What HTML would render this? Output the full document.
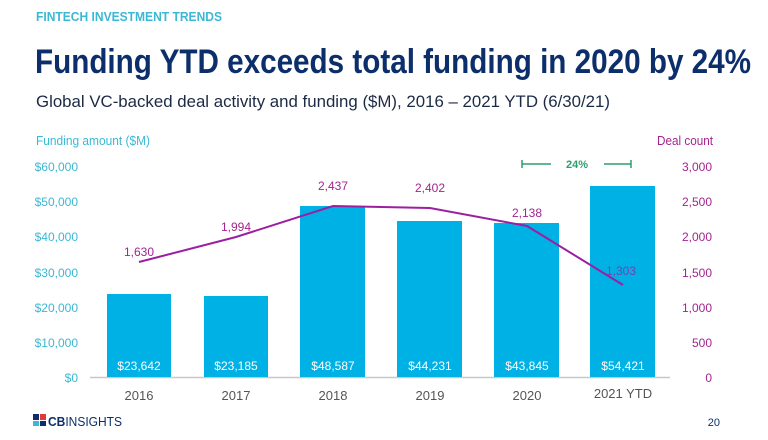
<!DOCTYPE html>
<html><head><meta charset="utf-8"><style>
body{margin:0;width:768px;height:440px;background:#fff;overflow:hidden}
svg{display:block}
text{font-family:"Liberation Sans Narrow","Liberation Sans",sans-serif}
</style></head><body>
<svg width="768" height="440" viewBox="0 0 768 440">
<text x="36" y="21" font-size="12.5" font-weight="bold" fill="#3bb8d4" textLength="186" lengthAdjust="spacingAndGlyphs">FINTECH INVESTMENT TRENDS</text>
<text x="35" y="73" font-size="34" font-weight="bold" fill="#0c2f6b" textLength="716" lengthAdjust="spacingAndGlyphs">Funding YTD exceeds total funding in 2020 by 24%</text>
<text x="36" y="107" font-size="17" fill="#1c2a44" textLength="574" lengthAdjust="spacingAndGlyphs">Global VC-backed deal activity and funding ($M), 2016 – 2021 YTD (6/30/21)</text>
<text x="36" y="145" font-size="13" fill="#3bb8d4" textLength="114" lengthAdjust="spacingAndGlyphs">Funding amount ($M)</text>
<text x="713" y="145" font-size="13" fill="#a3248f" text-anchor="end" textLength="56" lengthAdjust="spacingAndGlyphs">Deal count</text>
<g font-size="12" fill="#3bb8d4" text-anchor="end">
<text x="78" y="171">$60,000</text><text x="78" y="206">$50,000</text><text x="78" y="241">$40,000</text>
<text x="78" y="277">$30,000</text><text x="78" y="312">$20,000</text><text x="78" y="347">$10,000</text><text x="78" y="382">$0</text>
</g>
<g font-size="12" fill="#a3248f" text-anchor="end">
<text x="712" y="171">3,000</text><text x="712" y="206">2,500</text><text x="712" y="241">2,000</text>
<text x="712" y="277">1,500</text><text x="712" y="312">1,000</text><text x="712" y="347">500</text><text x="712" y="382">0</text>
</g>
<line x1="90" y1="377.5" x2="670" y2="377.5" stroke="#c8c8c8" stroke-width="1.5"/>
<g fill="#00b1e6">
<rect x="107" y="294" width="64" height="83"/>
<rect x="204" y="296" width="64" height="81"/>
<rect x="300" y="206" width="65" height="171"/>
<rect x="397" y="221" width="65" height="156"/>
<rect x="494" y="223" width="65" height="154"/>
<rect x="590" y="186" width="65" height="191"/>
</g>
<g font-size="12" fill="#fff" text-anchor="middle">
<text x="139" y="370">$23,642</text><text x="236" y="370">$23,185</text><text x="333" y="370">$48,587</text>
<text x="430" y="370">$44,231</text><text x="527" y="370">$43,845</text><text x="623" y="370">$54,421</text>
</g>
<polyline points="139,262 236,237 333,206 430,208 527,226 623,285" fill="none" stroke="#9b1fa0" stroke-width="2"/>
<g font-size="12" fill="#a3248f" text-anchor="middle">
<text x="139" y="256">1,630</text><text x="236" y="231">1,994</text><text x="333" y="190">2,437</text>
<text x="430" y="192">2,402</text><text x="527" y="217">2,138</text><text x="621" y="275" fill="#7a3fae">1,303</text>
</g>
<g font-size="13" fill="#555" text-anchor="middle">
<text x="139" y="400">2016</text><text x="236" y="400">2017</text><text x="333" y="400">2018</text>
<text x="430" y="400">2019</text><text x="527" y="400">2020</text><text x="623" y="398">2021 YTD</text>
</g>
<g stroke="#2e9e6e" stroke-width="1.5">
<line x1="522" y1="164" x2="551" y2="164"/><line x1="522" y1="160" x2="522" y2="168"/>
<line x1="604" y1="164" x2="631" y2="164"/><line x1="631" y1="160" x2="631" y2="168"/>
</g>
<text x="577" y="168" font-size="11" font-weight="bold" fill="#2e9e6e" text-anchor="middle">24%</text>
<rect x="33" y="414" width="6" height="6" fill="#0c2f6b"/><rect x="40" y="414" width="6" height="6" fill="#e03a3e"/>
<rect x="33" y="421" width="6" height="5" fill="#3bb8d4"/><rect x="40" y="421" width="6" height="5" fill="#0c2f6b"/>
<text x="48" y="426" font-size="13" font-weight="bold" fill="#0c2f6b" textLength="74" lengthAdjust="spacingAndGlyphs">CB<tspan font-weight="normal">INSIGHTS</tspan></text>
<text x="720" y="426" font-size="11" fill="#0c2f6b" text-anchor="end">20</text>
</svg>
</body></html>
